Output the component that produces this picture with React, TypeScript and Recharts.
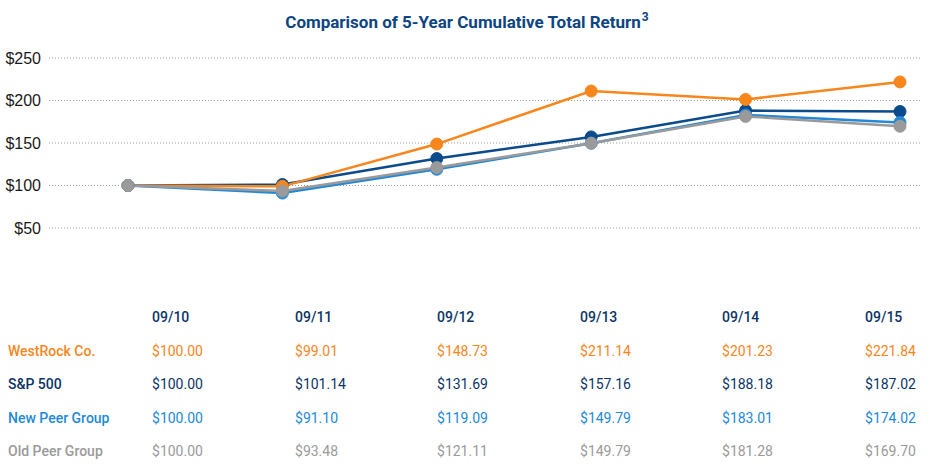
import React from "react";
import { LineChart, Line, XAxis, YAxis, CartesianGrid } from "recharts";

const periods = ["09/10", "09/11", "09/12", "09/13", "09/14", "09/15"];
const westRock = [100.0, 99.01, 148.73, 211.14, 201.23, 221.84];
const sp500 = [100.0, 101.14, 131.69, 157.16, 188.18, 187.02];
const newPeer = [100.0, 91.1, 119.09, 149.79, 183.01, 174.02];
const oldPeer = [100.0, 93.48, 121.11, 149.79, 181.28, 169.7];
const yTicks = [50, 100, 150, 200, 250];

const series = [
  { key: "sp", name: "S&P 500", values: sp500, line: "#0b4a8b", text: "#0c3566" },
  { key: "wr", name: "WestRock Co.", values: westRock, line: "#f7861c", text: "#f7861c" },
  { key: "np", name: "New Peer Group", values: newPeer, line: "#2389d6", text: "#2389d6" },
  { key: "op", name: "Old Peer Group", values: oldPeer, line: "#9a9a9a", text: "#9a9a9a" },
];

// table order differs from the drawing order
const tableOrder = ["wr", "sp", "np", "op"];

const data = periods.map((p, i) => ({
  period: p,
  wr: westRock[i],
  sp: sp500[i],
  np: newPeer[i],
  op: oldPeer[i],
}));

const colX = [152, 295, 437, 580, 722, 865];
const rowY = [317, 351, 384, 418, 451];

export default function App() {
  return (
    <div
      style={{
        position: "absolute",
        left: 0,
        top: 0,
        width: 934,
        height: 473,
        background: "#fff",
        fontFamily: "Roboto, sans-serif",
      }}
    >
      <div
        style={{
          position: "absolute",
          left: 0,
          top: 6,
          width: 934,
          textAlign: "center",
          fontSize: 17,
          fontWeight: 700,
          color: "#0d4583",
          lineHeight: "22px",
        }}
      >
        Comparison of 5-Year Cumulative Total Return
        <sup style={{ fontSize: 12, marginLeft: 1 }}>3</sup>
      </div>

      <div style={{ position: "absolute", left: 0, top: 0 }}>
        <LineChart
          width={934}
          height={240}
          data={data}
          margin={{ top: 58, right: 14, bottom: 12, left: 0 }}
        >
          <CartesianGrid
            vertical={false}
            stroke="#9a9a9a"
            strokeDasharray="1 2"
          />
          <XAxis
            dataKey="period"
            hide
            padding={{ left: 79, right: 20 }}
          />
          <YAxis
            width={49}
            domain={[50, 250]}
            ticks={yTicks}
            axisLine={false}
            tickLine={false}
            tickFormatter={(v) => `$${v}`}
            tick={{
              fontSize: 16,
              fill: "#1a1a1a",
              fontFamily: "'Liberation Sans', Arial, sans-serif",
            }}
          />
          {series.map((s) => (
            <Line
              key={s.key}
              dataKey={s.key}
              name={s.name}
              type="linear"
              stroke={s.line}
              strokeWidth={2.5}
              dot={{ r: 6, fill: s.line, stroke: s.line, strokeWidth: 1 }}
              activeDot={false}
              isAnimationActive={false}
            />
          ))}
        </LineChart>
      </div>

      {periods.map((p, i) => (
        <div
          key={p}
          style={{
            position: "absolute",
            left: colX[i],
            top: rowY[0] - 9,
            fontSize: 14,
            fontWeight: 500,
            color: "#0c3566",
            lineHeight: "18px",
          }}
        >
          {p}
        </div>
      ))}

      {tableOrder.map((k, r) => {
        const s = series.find((x) => x.key === k)!;
        return (
          <React.Fragment key={k}>
            <div
              style={{
                position: "absolute",
                left: 8,
                top: rowY[r + 1] - 9,
                fontSize: 14,
                fontWeight: 500,
                color: s.text,
                lineHeight: "18px",
                whiteSpace: "nowrap",
              }}
            >
              {s.name}
            </div>
            {s.values.map((v, i) => (
              <div
                key={i}
                style={{
                  position: "absolute",
                  left: colX[i],
                  top: rowY[r + 1] - 9,
                  fontSize: 14,
                  color: s.text,
                  lineHeight: "18px",
                }}
              >
                ${v.toFixed(2)}
              </div>
            ))}
          </React.Fragment>
        );
      })}
    </div>
  );
}
